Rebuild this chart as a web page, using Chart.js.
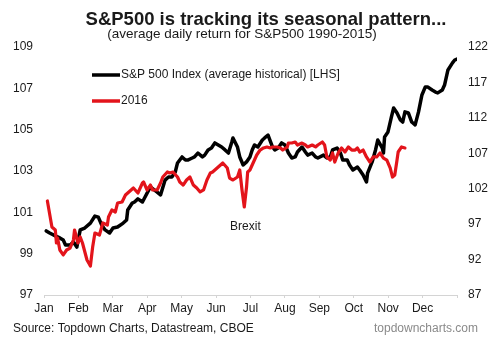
<!DOCTYPE html>
<html>
<head>
    <title>S&amp;P500 seasonal pattern</title>
    <script src="https://cdn.jsdelivr.net/npm/chart.js"></script>
    <style>
        body { margin: 0; background: #fff; }
        canvas { display: block; }
    </style>
</head>
<body>
    <canvas id="seasonChart" width="499" height="343"></canvas>
    <script>
        // month labels on the x axis (one label per month start, uniform spacing)
        const months = ['Jan', 'Feb', 'Mar', 'Apr', 'May', 'Jun', 'Jul', 'Aug', 'Sep', 'Oct', 'Nov', 'Dec'];

        // average historical path 1990-2015 (LHS), x = day of year
        const avgDays = [2, 5, 10, 14, 17, 19, 23, 26, 29, 32, 36, 41, 45, 48, 51, 54, 58, 61, 65, 70,
            73, 74, 78, 80, 83, 87, 94, 100, 103, 107, 110, 113, 116, 118, 122, 125, 127, 131, 133, 136,
            140, 142, 145, 148, 151, 154, 157, 160, 163, 166, 167, 171, 173, 176, 179, 182, 184, 186, 189, 193,
            195, 198, 202, 204, 207, 210, 213, 216, 219, 222, 224, 228, 231, 233, 237, 240, 242, 247, 250, 253,
            255, 259, 262, 264, 268, 270, 273, 277, 279, 282, 285, 286, 290, 293, 295, 299, 300, 301, 304, 307,
            309, 312, 315, 317, 319, 322, 325, 328, 331, 334, 337, 339, 343, 346, 348, 352, 354, 357, 361, 363, 365];
        const avgVals = [100.10, 100.00, 99.86, 99.76, 99.66, 99.42, 99.42, 99.56, 99.32, 100.15, 100.24, 100.48, 100.82, 100.77, 100.39, 100.15, 100.00, 100.24, 100.29, 100.48,
            100.63, 101.11, 101.45, 101.50, 101.65, 101.50, 102.23, 101.98, 101.84, 102.56, 102.71, 102.71, 102.95, 103.39, 103.68, 103.53, 103.53, 103.63, 103.68, 103.87,
            103.68, 103.77, 104.02, 104.11, 104.36, 104.26, 104.16, 104.02, 103.87, 104.40, 104.60, 104.16, 103.68, 103.29, 103.44, 103.68, 104.02, 104.26, 104.16, 104.50,
            104.60, 104.74, 104.16, 104.02, 104.11, 104.36, 104.26, 103.87, 103.63, 103.68, 103.92, 104.16, 103.92, 103.77, 103.87, 103.68, 103.63, 103.77, 103.63, 103.68,
            104.02, 104.11, 103.87, 103.53, 103.53, 103.29, 103.05, 103.19, 103.05, 102.81, 102.47, 102.90, 103.44, 104.02, 104.50, 104.11, 103.87, 104.65, 104.89, 105.61,
            106.05, 105.81, 105.47, 105.37, 105.86, 105.81, 105.37, 105.23, 105.86, 106.68, 107.07, 107.07, 106.92, 106.82, 106.78, 106.92, 107.16, 107.89, 108.23, 108.37, 108.42];

        // 2016 path (RHS), x = day of year
        const y2016Days = [3, 7, 10, 11, 12, 14, 17, 20, 23, 26, 27, 30, 32, 34, 38, 41, 43, 45, 49, 52,
            56, 57, 60, 63, 65, 69, 72, 74, 79, 83, 87, 88, 91, 94, 96, 100, 103, 105, 109, 111,
            114, 118, 120, 123, 126, 129, 132, 135, 138, 141, 144, 147, 149, 153, 156, 158, 162, 164, 167, 171,
            173, 175, 177, 179, 180, 182, 185, 188, 191, 194, 197, 200, 202, 206, 209, 211, 215, 216, 219, 222,
            224, 228, 231, 233, 237, 240, 242, 246, 248, 250, 253, 255, 257, 260, 263, 266, 269, 272, 275, 277,
            279, 282, 285, 288, 291, 294, 297, 300, 303, 306, 308, 310, 312, 313, 316, 319];
        const y2016Vals = [100.27, 96.60, 96.17, 94.34, 95.04, 93.35, 92.65, 93.35, 93.63, 94.76, 96.17, 94.34, 95.19, 94.34, 91.94, 91.09, 93.77, 95.75, 95.47, 97.16,
            96.88, 98.01, 99.00, 98.71, 99.98, 100.13, 101.11, 101.40, 102.10, 101.40, 102.81, 102.95, 101.82, 102.52, 101.82, 101.82, 102.81, 103.65, 104.36, 104.22,
            104.36, 103.65, 102.95, 102.52, 103.23, 103.65, 102.52, 102.10, 101.54, 101.82, 103.23, 104.22, 104.36, 104.92, 105.35, 105.63, 104.92, 103.51, 103.23, 103.65,
            104.64, 101.82, 99.42, 102.24, 104.36, 104.64, 105.70, 106.76, 107.46, 107.75, 107.89, 107.75, 107.89, 107.89, 107.75, 107.46, 107.89, 108.45, 108.45, 108.59,
            108.17, 108.45, 108.17, 107.89, 108.17, 107.89, 108.17, 108.59, 108.17, 106.48, 106.05, 107.04, 105.77, 107.04, 107.75, 107.18, 107.89, 107.46, 107.46, 107.75,
            107.18, 107.46, 106.48, 105.77, 106.48, 106.48, 107.04, 106.33, 106.05, 104.92, 103.65, 103.94, 106.05, 107.18, 107.89, 107.75];

        const brexitNote = { text: 'Brexit', day: 178, value: 100.3 };

        const axisFont = { family: 'Liberation Sans, Arial, sans-serif', size: 12 };
        const textColor = '#1a1a1a';
        const blackColor = '#000000';
        const redColor = '#e3141b';

        // titles, legend, note and footer are drawn straight on the canvas
        const decorations = {
            id: 'decorations',
            afterDraw(chart) {
                const ctx = chart.ctx;
                ctx.save();
                ctx.fillStyle = textColor;
                ctx.textAlign = 'center';
                ctx.textBaseline = 'alphabetic';
                ctx.font = 'bold 18.5px Liberation Sans, Arial, sans-serif';
                ctx.fillText('S&P500 is tracking its seasonal pattern...', 266, 25);
                ctx.font = '13.5px Liberation Sans, Arial, sans-serif';
                ctx.fillText('(average daily return for S&P500 1990-2015)', 242, 37.5);

                // legend
                const items = [
                    { label: 'S&P 500 Index (average historical) [LHS]', color: blackColor, y: 75 },
                    { label: '2016', color: redColor, y: 101 }
                ];
                ctx.font = '12px Liberation Sans, Arial, sans-serif';
                ctx.textAlign = 'left';
                ctx.textBaseline = 'middle';
                items.forEach(it => {
                    ctx.strokeStyle = it.color;
                    ctx.lineWidth = 3.5;
                    ctx.beginPath();
                    ctx.moveTo(92, it.y);
                    ctx.lineTo(120, it.y);
                    ctx.stroke();
                    ctx.fillStyle = textColor;
                    ctx.fillText(it.label, 121, it.y);
                });

                // Brexit note
                const xs = chart.scales.x, yl = chart.scales.yL;
                ctx.textAlign = 'center';
                ctx.fillText(brexitNote.text, xs.getPixelForValue(brexitNote.day), yl.getPixelForValue(brexitNote.value));

                // footer
                ctx.textBaseline = 'alphabetic';
                ctx.textAlign = 'left';
                ctx.fillText('Source: Topdown Charts, Datastream, CBOE', 13, 332);
                ctx.textAlign = 'right';
                ctx.fillStyle = '#8a8a8a';
                ctx.fillText('topdowncharts.com', 478, 332);
                ctx.restore();
            }
        };

        const ctx = document.getElementById('seasonChart').getContext('2d');
        const chart = new Chart(ctx, {
            type: 'line',
            data: {
                datasets: [{
                    label: 'S&P 500 Index (average historical) [LHS]',
                    data: avgDays.map((d, i) => ({ x: d, y: avgVals[i] })),
                    borderColor: blackColor,
                    borderWidth: 3.5,
                    yAxisID: 'yL',
                    order: 1
                }, {
                    label: '2016',
                    data: y2016Days.map((d, i) => ({ x: d, y: y2016Vals[i] })),
                    borderColor: redColor,
                    borderWidth: 3.2,
                    yAxisID: 'yR',
                    order: 0
                }]
            },
            options: {
                responsive: false,
                animation: false,
                pointRadius: 0,
                elements: { point: { radius: 0 }, line: { tension: 0, borderJoinStyle: 'round', borderCapStyle: 'round' } },
                layout: { padding: { top: 47, bottom: 22, left: 0, right: 0 } },
                plugins: {
                    legend: { display: false },
                    tooltip: { enabled: false },
                    title: { display: false }
                },
                scales: {
                    x: {
                        type: 'linear',
                        min: 0,
                        max: 365,
                        afterBuildTicks: scale => {
                            scale.ticks = months.map((m, i) => ({ value: i * 365 / 12 })).concat([{ value: 365 }]);
                        },
                        afterFit: scale => { scale.height = 26; },
                        ticks: {
                            autoSkip: false,
                            maxRotation: 0,
                            padding: 3,
                            color: textColor,
                            font: axisFont,
                            callback: (v, i) => months[i] || ''
                        },
                        grid: { drawOnChartArea: false, drawTicks: true, tickLength: 3, color: '#d4d4d4' },
                        border: { display: true, color: '#d4d4d4' }
                    },
                    yL: {
                        position: 'left',
                        min: 97,
                        max: 109,
                        afterFit: scale => { scale.width = 44; },
                        ticks: { stepSize: 2, padding: 11, color: textColor, font: axisFont },
                        grid: { display: false, drawTicks: false },
                        border: { display: false }
                    },
                    yR: {
                        position: 'right',
                        min: 87,
                        max: 122,
                        afterFit: scale => { scale.width = 42; },
                        ticks: { stepSize: 5, padding: 11, color: textColor, font: axisFont },
                        grid: { display: false, drawTicks: false },
                        border: { display: false }
                    }
                }
            },
            plugins: [decorations]
        });
    </script>
</body>
</html>
